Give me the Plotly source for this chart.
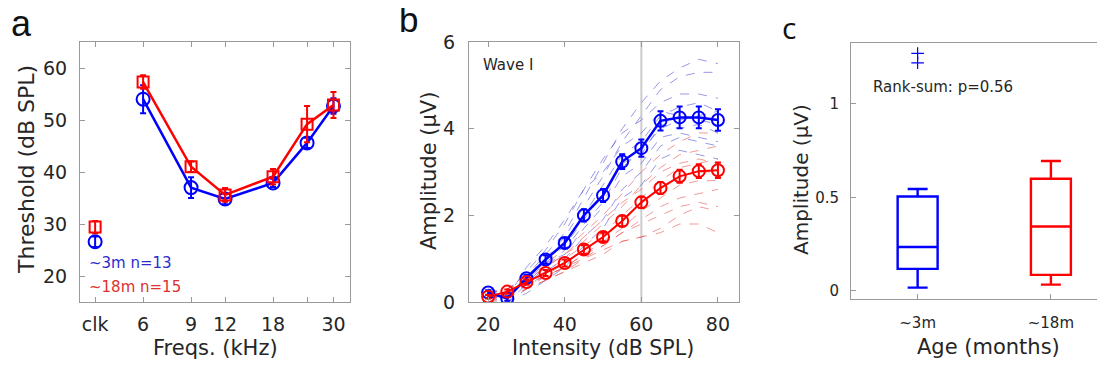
import plotly.graph_objects as go

# ---------------- data ----------------
# Panel a: ABR thresholds
freq_ticks = [4, 6, 9, 12, 18, 24, 30]
freq_ticktext = ["clk", "6", "9", "12", "18", "", "30"]
clk_pos = [4]
freqs = [6, 9, 12, 18, 24, 30]
young_clk = [26.6]
young_clk_err = [1.0]
old_clk = [29.4]
old_clk_err = [1.2]
young_thr = [54.0, 37.0, 34.8, 37.9, 45.6, 52.7]
young_thr_err = [2.7, 2.0, 1.0, 0.8, 1.0, 1.5]
old_thr = [57.3, 41.0, 35.6, 39.1, 49.2, 52.9]
old_thr_err = [1.3, 1.0, 1.3, 1.5, 3.5, 2.5]

# Panel b: wave I amplitude growth
levels = [20, 25, 30, 35, 40, 45, 50, 55, 60, 65, 70, 75, 80]
young_amp = [0.22, 0.08, 0.55, 0.98, 1.36, 2.0, 2.46, 3.24, 3.55, 4.18, 4.26, 4.26, 4.2]
young_amp_err = [0.05, 0.05, 0.08, 0.1, 0.12, 0.14, 0.15, 0.17, 0.2, 0.22, 0.25, 0.25, 0.25]
old_amp = [0.12, 0.24, 0.46, 0.67, 0.9, 1.21, 1.5, 1.87, 2.3, 2.63, 2.9, 3.02, 3.04]
old_amp_err = [0.04, 0.05, 0.06, 0.07, 0.08, 0.1, 0.1, 0.12, 0.13, 0.14, 0.15, 0.16, 0.18]
young_indiv = [
    [0.2, 0.3, 0.6, 1.1, 1.6, 2.4, 3.2, 4.0, 4.6, 5.1, 5.4, 5.6, 5.5],
    [0.1, 0.2, 0.5, 1.0, 1.5, 2.2, 2.9, 3.7, 4.3, 4.9, 5.2, 5.3, 5.3],
    [0.3, 0.2, 0.7, 1.2, 1.8, 2.6, 3.3, 3.9, 4.2, 4.6, 4.8, 4.8, 4.7],
    [0.1, 0.1, 0.4, 0.8, 1.2, 1.8, 2.3, 3.1, 3.5, 4.0, 4.2, 4.3, 4.4],
    [0.2, 0.1, 0.5, 0.9, 1.3, 1.9, 2.5, 3.2, 3.4, 4.1, 4.0, 4.1, 3.9],
    [0.1, 0.0, 0.3, 0.7, 1.0, 1.5, 1.9, 2.6, 3.0, 3.6, 3.8, 3.7, 3.6],
    [0.2, 0.1, 0.6, 1.0, 1.4, 2.0, 2.7, 3.4, 3.7, 4.3, 4.5, 4.6, 4.4],
    [0.0, 0.0, 0.2, 0.5, 0.8, 1.3, 1.7, 2.4, 2.7, 3.3, 3.5, 3.4, 3.3],
    [0.3, 0.1, 0.8, 1.3, 1.9, 2.6, 3.0, 3.6, 3.9, 4.4, 4.3, 4.2, 4.1],
    [0.2, 0.0, 0.4, 0.9, 1.1, 1.7, 2.2, 2.9, 3.2, 3.8, 3.9, 3.8, 3.7],
]
old_indiv = [
    [0.1, 0.3, 0.6, 0.9, 1.2, 1.6, 2.0, 2.5, 3.0, 3.4, 3.7, 3.9, 3.9],
    [0.1, 0.2, 0.5, 0.8, 1.1, 1.4, 1.8, 2.2, 2.7, 3.1, 3.4, 3.5, 3.6],
    [0.2, 0.3, 0.5, 0.7, 1.0, 1.3, 1.6, 2.0, 2.4, 2.8, 3.1, 3.2, 3.3],
    [0.0, 0.2, 0.4, 0.6, 0.9, 1.2, 1.5, 1.9, 2.3, 2.6, 2.9, 3.0, 3.0],
    [0.1, 0.2, 0.4, 0.6, 0.8, 1.1, 1.4, 1.7, 2.1, 2.4, 2.7, 2.8, 2.8],
    [0.1, 0.1, 0.3, 0.5, 0.7, 1.0, 1.3, 1.6, 1.9, 2.2, 2.4, 2.5, 2.6],
    [0.0, 0.1, 0.3, 0.5, 0.7, 0.9, 1.1, 1.4, 1.5, 1.7, 2.0, 2.2, 2.1],
    [0.1, 0.2, 0.4, 0.6, 0.8, 1.0, 1.2, 1.4, 1.5, 1.6, 1.8, 1.8, 1.6],
    [0.2, 0.3, 0.5, 0.8, 1.1, 1.5, 1.9, 2.3, 2.6, 3.0, 3.2, 3.3, 3.2],
    [0.1, 0.1, 0.3, 0.6, 0.8, 1.1, 1.3, 1.6, 1.8, 2.0, 2.2, 2.3, 2.2],
]
ref_level = 60

# Panel c: box plot stats
groups = ["~3m", "~18m"]
group_pos = [1, 2]
q1 = [0.118, 0.086]
median = [0.235, 0.345]
q3 = [0.505, 0.6]
lower_whisk = [0.018, 0.034]
upper_whisk = [0.545, 0.695]
young_outliers = [1.22, 1.27]

BLUE = "#0000ff"
RED = "#ff0000"
TXT = "#262626"
AX = "#9a9a9a"
FONT = "DejaVu Sans, Verdana, sans-serif"
LFONT = "Liberation Sans, Arial, sans-serif"

# the page body has an 8px default margin; the figure is sized to fit the 1105x371 window
OFF = 8
W, H = 1105 - OFF, 371 - OFF


def px_x(p):
    return (p - OFF) / W


def px_y(p):
    return 1 - (p - OFF) / H


fig = go.Figure()

# ---------- panel a ----------
fig.add_trace(go.Scatter(
    x=freqs, y=young_thr, xaxis="x", yaxis="y", mode="lines+markers",
    line=dict(color=BLUE, width=2.5),
    marker=dict(symbol="circle-open", size=13, color=BLUE, line=dict(width=2)),
    error_y=dict(type="data", array=young_thr_err, color=BLUE, thickness=2, width=3),
    showlegend=False))
fig.add_trace(go.Scatter(
    x=freqs, y=old_thr, xaxis="x", yaxis="y", mode="lines+markers",
    line=dict(color=RED, width=2.5),
    marker=dict(symbol="square-open", size=11, color=RED, line=dict(width=2)),
    error_y=dict(type="data", array=old_thr_err, color=RED, thickness=2, width=3),
    showlegend=False))
fig.add_trace(go.Scatter(
    x=clk_pos, y=young_clk, xaxis="x", yaxis="y", mode="markers",
    marker=dict(symbol="circle-open", size=13, color=BLUE, line=dict(width=2)),
    error_y=dict(type="data", array=young_clk_err, color=BLUE, thickness=2, width=3),
    showlegend=False))
fig.add_trace(go.Scatter(
    x=clk_pos, y=old_clk, xaxis="x", yaxis="y", mode="markers",
    marker=dict(symbol="square-open", size=11, color=RED, line=dict(width=2)),
    error_y=dict(type="data", array=old_clk_err, color=RED, thickness=2, width=3),
    showlegend=False))

# ---------- panel b ----------
for curve in young_indiv:
    fig.add_trace(go.Scatter(
        x=levels, y=curve, xaxis="x2", yaxis="y2", mode="lines",
        line=dict(color="rgba(70,70,210,0.55)", width=1, dash="dash"),
        showlegend=False, hoverinfo="skip"))
for curve in old_indiv:
    fig.add_trace(go.Scatter(
        x=levels, y=curve, xaxis="x2", yaxis="y2", mode="lines",
        line=dict(color="rgba(230,70,70,0.55)", width=1, dash="dash"),
        showlegend=False, hoverinfo="skip"))
fig.add_trace(go.Scatter(
    x=levels, y=young_amp, xaxis="x2", yaxis="y2", mode="lines+markers",
    line=dict(color=BLUE, width=2.5),
    marker=dict(symbol="circle-open", size=12, color=BLUE, line=dict(width=2)),
    error_y=dict(type="data", array=young_amp_err, color=BLUE, thickness=2, width=3),
    showlegend=False))
fig.add_trace(go.Scatter(
    x=levels, y=old_amp, xaxis="x2", yaxis="y2", mode="lines+markers",
    line=dict(color=RED, width=2),
    marker=dict(symbol="circle-open", size=12, color=RED, line=dict(width=2)),
    error_y=dict(type="data", array=old_amp_err, color=RED, thickness=2, width=3),
    showlegend=False))

# ---------- panel c ----------
for i, col in enumerate([BLUE, RED]):
    fig.add_trace(go.Box(
        x=[group_pos[i]], q1=[q1[i]], median=[median[i]], q3=[q3[i]],
        lowerfence=[lower_whisk[i]], upperfence=[upper_whisk[i]],
        xaxis="x3", yaxis="y3", width=0.3, whiskerwidth=0.5,
        line=dict(color=col, width=2.4), fillcolor="white",
        boxpoints=False, showlegend=False))
fig.add_trace(go.Scatter(
    x=[group_pos[0]] * len(young_outliers), y=young_outliers, xaxis="x3", yaxis="y3",
    mode="markers",
    marker=dict(symbol="cross-thin", size=9, line=dict(color=BLUE, width=1.2)),
    showlegend=False))

tickfont = dict(family=FONT, size=19, color=TXT)
common = dict(showline=True, linecolor=AX, linewidth=1, mirror="ticks", ticks="inside",
              ticklen=5, tickcolor=AX, showgrid=False, zeroline=False, tickfont=tickfont,
              automargin=False)

ydom = [px_y(302), px_y(42)]
fig.update_layout(
    width=W, height=H, margin=dict(l=0, r=0, t=0, b=0, pad=0), autosize=False,
    paper_bgcolor="white", plot_bgcolor="white",
    font=dict(family=FONT, color=TXT),
    xaxis=dict(domain=[px_x(80), px_x(350)], type="log",
               range=[0.5465, 1.5378], tickvals=freq_ticks, ticktext=freq_ticktext,
               anchor="y", ticklabelstandoff=5, **common),
    yaxis=dict(domain=ydom, range=[15, 65], tickvals=[20, 30, 40, 50, 60],
               anchor="x", ticklabelstandoff=8, **common),
    xaxis2=dict(domain=[px_x(469), px_x(739)], range=[15, 85.5],
                tickvals=[20, 40, 60, 80], anchor="y2", ticklabelstandoff=5, **common),
    yaxis2=dict(domain=ydom, range=[0, 6], tickvals=[0, 2, 4, 6],
                anchor="x2", ticklabelstandoff=9, **common),
    xaxis3=dict(domain=[px_x(851), 1.0], range=[0.5, 2.406],
                tickvals=group_pos, ticktext=groups, anchor="y3",
                showline=True, linecolor=AX, linewidth=1, mirror=True, ticks="inside",
                ticklen=5, tickcolor=AX, showgrid=False, zeroline=False, automargin=False,
                tickfont=dict(family=FONT, size=15, color=TXT), ticklabelstandoff=10),
    yaxis3=dict(domain=[px_y(299), px_y(43)], range=[-0.043, 1.326],
                tickvals=[0, 0.5, 1], ticktext=["0", "0.5", "1"], anchor="x3",
                showline=True, linecolor=AX, linewidth=1, mirror=False, ticks="inside",
                ticklen=5, tickcolor=AX, showgrid=False, zeroline=False, automargin=False,
                tickfont=dict(family=FONT, size=15, color=TXT), ticklabelstandoff=8),
)

fig.add_shape(type="line", xref="x2", yref="y2 domain", x0=ref_level, x1=ref_level,
              y0=0, y1=1, line=dict(color="#cccccc", width=2), layer="below")


def ann(text, x, y, size, color=TXT, angle=0, family=FONT, xanchor="center",
        yanchor="middle"):
    fig.add_annotation(text=text, x=px_x(x), y=px_y(y), xref="paper", yref="paper",
                       showarrow=False, textangle=angle, xanchor=xanchor, yanchor=yanchor,
                       font=dict(family=family, size=size, color=color))


ann("a", 21, 46, 36, color="#111", family=LFONT, yanchor="bottom")
ann("b", 408, 41, 35, color="#111", family=LFONT, yanchor="bottom")
ann("c", 789, 50, 30, color="#111", family="Open Sans, sans-serif", yanchor="bottom")

ann("Threshold (dB SPL)", 26, 170, 22, angle=-90)
ann("Freqs. (kHz)", 215, 348, 21)
ann("Amplitude (μV)", 429, 171, 21, angle=-90)
ann("Intensity (dB SPL)", 603, 348, 20.5)
ann("Amplitude (μV)", 801, 180, 20, angle=-90)
ann("Age (months)", 988, 347, 21)

ann("~3m n=13", 87, 263, 15, color="#2b2bcf", xanchor="left")
ann("~18m n=15", 87, 287, 15, color="#e03030", xanchor="left")
ann("Wave I", 481, 65, 15, xanchor="left")
ann("Rank-sum: p=0.56", 871, 87, 15, xanchor="left")

fig.write_html("out.html")
